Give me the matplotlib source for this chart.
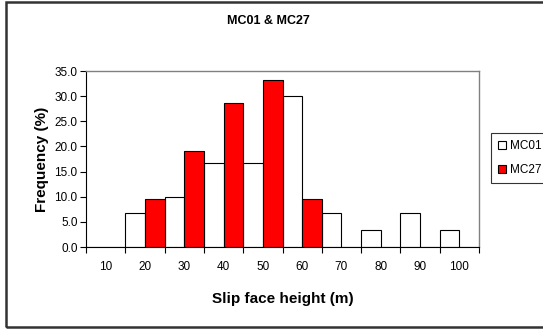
import numpy as np
import matplotlib
matplotlib.use("Agg")
import matplotlib.pyplot as plt
from matplotlib.patches import Rectangle

plt.rcParams['font.family'] = ['Liberation Sans', 'DejaVu Sans']

# === Data ===
categories = ['10', '20', '30', '40', '50', '60', '70', '80', '90', '100']
mc01 = [0.0, 6.7, 10.0, 16.7, 16.7, 30.0, 6.7, 3.3, 6.7, 3.3]
mc27 = [0.0, 9.5, 19.0, 28.6, 33.3, 9.5, 0.0, 0.0, 0.0, 0.0]
yticks = [0, 5, 10, 15, 20, 25, 30, 35]

W, H = 543, 329
fig = plt.figure(figsize=(W / 100, H / 100), dpi=100)
ax = fig.add_axes([86 / W, 1 - 247 / H, (479 - 86) / W, (247 - 71) / H])

x = np.arange(len(categories))
bw = 0.5
ax.bar(x - bw / 2, mc01, bw, color='white', edgecolor='black', linewidth=0.8, label='MC01')
ax.bar(x + bw / 2, mc27, bw, color='#ff0000', edgecolor='black', linewidth=0.8, label='MC27')

ax.set_xlim(-0.5, len(categories) - 0.5)
ax.set_ylim(0, 35)
ax.set_yticks(yticks)
ax.set_yticklabels([f'{v:.1f}' for v in yticks], fontsize=8.5)

# category boundaries get the tick marks, labels sit in the middle
ax.set_xticks(np.arange(len(categories) + 1) - 0.5)
ax.set_xticklabels([])
ax.set_xticks(x, minor=True)
ax.set_xticklabels(categories, minor=True, fontsize=8.5)
ax.tick_params(axis='x', which='minor', length=0, pad=10)
ax.tick_params(axis='x', which='major', length=4, width=0.8, direction='out')
ax.tick_params(axis='y', length=4, width=0.8, direction='out', pad=2)

for side in ['top', 'right']:
    ax.spines[side].set_color('#808080')
    ax.spines[side].set_linewidth(1.0)
for side in ['left', 'bottom']:
    ax.spines[side].set_color('black')
    ax.spines[side].set_linewidth(0.8)

ax.set_ylabel('Frequency (%)', fontsize=11, fontweight='bold', labelpad=4)
ax.set_xlabel('Slip face height (m)', fontsize=11, fontweight='bold', labelpad=14)
fig.text(0.5 - 3 / W, 1 - 21 / H, 'MC01 & MC27', ha='center', va='center',
         fontsize=9, fontweight='bold')

leg = fig.legend(loc='upper left', bbox_to_anchor=(491 / W, 1 - 133 / H),
                 fontsize=8.5, frameon=True, fancybox=False, handlelength=0.7,
                 handleheight=0.7, handletextpad=0.3, borderpad=0.6,
                 borderaxespad=0, labelspacing=1.0)
leg.get_frame().set_edgecolor('black')
leg.get_frame().set_linewidth(0.8)

# outer chart border (right side runs off the picture)
fig.patches.append(Rectangle((6 / W, 2 / H), 1.2, 1 - 4 / H, transform=fig.transFigure,
                             fill=False, edgecolor='#333333', linewidth=1.8))

fig.savefig('out.png', dpi=100)
